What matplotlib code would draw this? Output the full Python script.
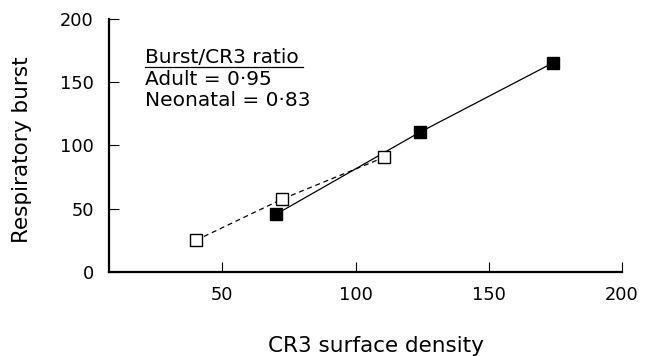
import matplotlib
matplotlib.use("Agg")
import matplotlib.pyplot as plt
from matplotlib.lines import Line2D

adult_x = [70.1, 124.1, 174.3]
adult_y = [45.4, 110.3, 165.4]
neo_x = [40.1, 72.5, 110.7]
neo_y = [24.9, 57.5, 90.5]
x_ticks = [50, 100, 150, 200]
y_ticks = [0, 50, 100, 150, 200]

W, H = 654, 356
fig = plt.figure(figsize=(W / 100, H / 100), dpi=100)
L, R, T, B = 109, 621.7, 19, 271.7
ax = fig.add_axes([L / W, 1 - B / H, (R - L) / W, (B - T) / H])
ax.set_xlim(7.4, 200)
ax.set_ylim(0, 200)

ax.plot(neo_x, neo_y, color="black", lw=0.9, ls=(0, (4, 3)), zorder=2)
ax.plot(adult_x, adult_y, color="black", lw=0.9, zorder=2)
ax.plot(neo_x, neo_y, ls="none", marker="s", ms=8.5, mfc="white", mec="black", mew=1.0, zorder=3)
ax.plot(adult_x, adult_y, ls="none", marker="s", ms=8.5, mfc="black", mec="black", zorder=4)

for s in ["top", "right"]:
    ax.spines[s].set_visible(False)
for s in ["left", "bottom"]:
    ax.spines[s].set_linewidth(1.6)

ax.set_xticks(x_ticks)
ax.set_yticks(y_ticks)
ax.tick_params(direction="in", length=7.5, width=0.8, labelsize=12.8, pad=10)
ax.tick_params(axis="y", pad=11)

fig.text(376 / W, 1 - 346.5 / H, "CR3 surface density", ha="center", va="center", fontsize=15.5)
fig.text(22 / W, 1 - 150 / H, "Respiratory burst", ha="center", va="center", rotation=90, fontsize=15.5)

fs = 14.5
fig.text(145 / W, 1 - 62.7 / H, "Burst/CR3 ratio", ha="left", va="baseline", fontsize=fs)
fig.text(145 / W, 1 - 85 / H, "Adult = 0\u00b795", ha="left", va="baseline", fontsize=fs)
fig.text(145 / W, 1 - 106 / H, "Neonatal = 0\u00b783", ha="left", va="baseline", fontsize=fs)
fig.add_artist(Line2D([145 / W, 303 / W], [1 - 67.3 / H, 1 - 67.3 / H], color="black", lw=0.9))

fig.savefig("out.png", dpi=100)
